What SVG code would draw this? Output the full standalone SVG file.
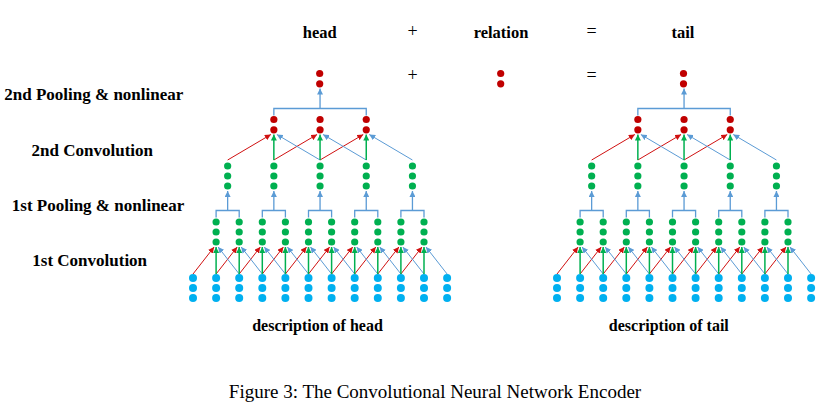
<svg xmlns="http://www.w3.org/2000/svg" xmlns:xlink="http://www.w3.org/1999/xlink" width="829" height="410" viewBox="0 0 829 410">
<style>
text{font-family:"Liberation Serif","Times New Roman",serif;fill:#000}
.lbl{font-weight:bold;font-size:17px;text-anchor:middle}
.top{font-weight:bold;font-size:16.5px;text-anchor:middle}
.op{font-size:18px;text-anchor:middle}
.desc{font-weight:bold;font-size:16px;text-anchor:middle}
.cap{font-size:19px;text-anchor:middle}
.r{fill:#C00000}
.g{fill:#00B050}
.b{fill:#00B0F0}
.lr{stroke:#D01010;stroke-width:1;marker-end:url(#ar)}
.lg{stroke:#00B050;stroke-width:1.5;marker-end:url(#ag)}
.lb{stroke:#5B9BD5;stroke-width:1;marker-end:url(#ab)}
.br{fill:none;stroke:#5B9BD5;stroke-width:1.3;marker-end:url(#ab2)}
</style>
<defs>
<marker id="ar" markerUnits="userSpaceOnUse" markerWidth="6" markerHeight="6" viewBox="0 0 6 6" refX="6" refY="3" orient="auto"><path d="M0,0 L6,3 L0,6z" fill="#D01010"/></marker>
<marker id="ag" markerUnits="userSpaceOnUse" markerWidth="6" markerHeight="6" viewBox="0 0 6 6" refX="6" refY="3" orient="auto"><path d="M0,0 L6,3 L0,6z" fill="#00B050"/></marker>
<marker id="ab" markerUnits="userSpaceOnUse" markerWidth="6" markerHeight="6" viewBox="0 0 6 6" refX="6" refY="3" orient="auto"><path d="M0,0 L6,3 L0,6z" fill="#5B9BD5"/></marker>
<marker id="ab2" markerUnits="userSpaceOnUse" markerWidth="6" markerHeight="6" viewBox="0 0 6 6" refX="6" refY="3" orient="auto"><path d="M0,0 L6,3 L0,6z" fill="#5B9BD5"/></marker>
<g id="bcol"><circle class="b" cx="0" cy="0" r="4"/><circle class="b" cx="0" cy="10" r="4"/><circle class="b" cx="0" cy="20" r="4"/></g>
<g id="gcol"><circle class="g" cx="0" cy="0" r="3.6"/><circle class="g" cx="0" cy="10" r="3.6"/><circle class="g" cx="0" cy="20" r="3.6"/></g>
<g id="rcol"><circle class="r" cx="0" cy="0" r="3.6"/><circle class="r" cx="0" cy="10.3" r="3.6"/></g>
</defs>
<rect width="829" height="410" fill="#fff"/>

<g id="labels">
<text class="top" x="319.7" y="37.7">head</text>
<text class="op" x="412.7" y="36.5">+</text>
<text class="top" x="501" y="37.7">relation</text>
<text class="op" x="591.7" y="36.5">=</text>
<text class="top" x="683" y="37.7">tail</text>
<text class="op" x="412.7" y="81">+</text>
<text class="op" x="591.7" y="81">=</text>
<text class="lbl" x="93.8" y="100">2nd Pooling &amp; nonlinear</text>
<text class="lbl" x="92.3" y="156">2nd Convolution</text>
<text class="lbl" x="98" y="211">1st Pooling &amp; nonlinear</text>
<text class="lbl" x="89.7" y="266">1st Convolution</text>
<text class="desc" x="317.5" y="331">description of head</text>
<text class="desc" x="668.8" y="331">description of tail</text>
<text class="cap" x="435" y="398">Figure 3: The Convolutional Neural Network Encoder</text>
</g>

<g id="connectors">
<!-- head: 1st convolution -->
<line class="lr" x1="193" y1="274" x2="214.1" y2="247"/>
<line class="lr" x1="216.1" y1="274" x2="237.2" y2="247"/>
<line class="lr" x1="239.2" y1="274" x2="260.3" y2="247"/>
<line class="lr" x1="262.3" y1="274" x2="283.4" y2="247"/>
<line class="lr" x1="285.4" y1="274" x2="306.5" y2="247"/>
<line class="lr" x1="308.5" y1="274" x2="329.6" y2="247"/>
<line class="lr" x1="331.6" y1="274" x2="352.7" y2="247"/>
<line class="lr" x1="354.7" y1="274" x2="375.8" y2="247"/>
<line class="lr" x1="377.8" y1="274" x2="398.9" y2="247"/>
<line class="lr" x1="400.9" y1="274" x2="422" y2="247"/>
<line class="lb" x1="239.2" y1="274" x2="218.1" y2="247"/>
<line class="lb" x1="262.3" y1="274" x2="241.2" y2="247"/>
<line class="lb" x1="285.4" y1="274" x2="264.3" y2="247"/>
<line class="lb" x1="308.5" y1="274" x2="287.4" y2="247"/>
<line class="lb" x1="331.6" y1="274" x2="310.5" y2="247"/>
<line class="lb" x1="354.7" y1="274" x2="333.6" y2="247"/>
<line class="lb" x1="377.8" y1="274" x2="356.7" y2="247"/>
<line class="lb" x1="400.9" y1="274" x2="379.8" y2="247"/>
<line class="lb" x1="424" y1="274" x2="402.9" y2="247"/>
<line class="lb" x1="447.1" y1="274" x2="426" y2="247"/>
<line class="lg" x1="216.1" y1="274" x2="216.1" y2="247"/>
<line class="lg" x1="239.2" y1="274" x2="239.2" y2="247"/>
<line class="lg" x1="262.3" y1="274" x2="262.3" y2="247"/>
<line class="lg" x1="285.4" y1="274" x2="285.4" y2="247"/>
<line class="lg" x1="308.5" y1="274" x2="308.5" y2="247"/>
<line class="lg" x1="331.6" y1="274" x2="331.6" y2="247"/>
<line class="lg" x1="354.7" y1="274" x2="354.7" y2="247"/>
<line class="lg" x1="377.8" y1="274" x2="377.8" y2="247"/>
<line class="lg" x1="400.9" y1="274" x2="400.9" y2="247"/>
<line class="lg" x1="424" y1="274" x2="424" y2="247"/>
<!-- head: 1st pooling -->
<path class="br" d="M216.1,217.5 V210.5 H239.2 V217.5 M227.65,210.5 V191"/>
<path class="br" d="M262.3,217.5 V210.5 H285.4 V217.5 M273.85,210.5 V191"/>
<path class="br" d="M308.5,217.5 V210.5 H331.6 V217.5 M320.05,210.5 V191"/>
<path class="br" d="M354.7,217.5 V210.5 H377.8 V217.5 M366.25,210.5 V191"/>
<path class="br" d="M400.9,217.5 V210.5 H424 V217.5 M412.45,210.5 V191"/>
<!-- head: 2nd convolution -->
<line class="lr" x1="227.65" y1="160" x2="270.85" y2="134.5"/>
<line class="lr" x1="273.85" y1="160" x2="317.05" y2="134.5"/>
<line class="lr" x1="320.05" y1="160" x2="363.25" y2="134.5"/>
<line class="lb" x1="320.05" y1="160" x2="276.85" y2="134.5"/>
<line class="lb" x1="366.25" y1="160" x2="323.05" y2="134.5"/>
<line class="lb" x1="412.45" y1="160" x2="369.25" y2="134.5"/>
<line class="lg" x1="273.85" y1="160" x2="273.85" y2="134.5"/>
<line class="lg" x1="320.05" y1="160" x2="320.05" y2="134.5"/>
<line class="lg" x1="366.25" y1="160" x2="366.25" y2="134.5"/>
<!-- head: 2nd pooling -->
<path class="br" d="M273.85,115.5 V108.5 H366.25 V115.5 M320.05,108.5 V88.5"/>

<!-- tail: 1st convolution -->
<line class="lr" x1="557" y1="274" x2="578.1" y2="247"/>
<line class="lr" x1="580.1" y1="274" x2="601.2" y2="247"/>
<line class="lr" x1="603.2" y1="274" x2="624.3" y2="247"/>
<line class="lr" x1="626.3" y1="274" x2="647.4" y2="247"/>
<line class="lr" x1="649.4" y1="274" x2="670.5" y2="247"/>
<line class="lr" x1="672.5" y1="274" x2="693.6" y2="247"/>
<line class="lr" x1="695.6" y1="274" x2="716.7" y2="247"/>
<line class="lr" x1="718.7" y1="274" x2="739.8" y2="247"/>
<line class="lr" x1="741.8" y1="274" x2="762.9" y2="247"/>
<line class="lr" x1="764.9" y1="274" x2="786" y2="247"/>
<line class="lb" x1="603.2" y1="274" x2="582.1" y2="247"/>
<line class="lb" x1="626.3" y1="274" x2="605.2" y2="247"/>
<line class="lb" x1="649.4" y1="274" x2="628.3" y2="247"/>
<line class="lb" x1="672.5" y1="274" x2="651.4" y2="247"/>
<line class="lb" x1="695.6" y1="274" x2="674.5" y2="247"/>
<line class="lb" x1="718.7" y1="274" x2="697.6" y2="247"/>
<line class="lb" x1="741.8" y1="274" x2="720.7" y2="247"/>
<line class="lb" x1="764.9" y1="274" x2="743.8" y2="247"/>
<line class="lb" x1="788" y1="274" x2="766.9" y2="247"/>
<line class="lb" x1="811.1" y1="274" x2="790" y2="247"/>
<line class="lg" x1="580.1" y1="274" x2="580.1" y2="247"/>
<line class="lg" x1="603.2" y1="274" x2="603.2" y2="247"/>
<line class="lg" x1="626.3" y1="274" x2="626.3" y2="247"/>
<line class="lg" x1="649.4" y1="274" x2="649.4" y2="247"/>
<line class="lg" x1="672.5" y1="274" x2="672.5" y2="247"/>
<line class="lg" x1="695.6" y1="274" x2="695.6" y2="247"/>
<line class="lg" x1="718.7" y1="274" x2="718.7" y2="247"/>
<line class="lg" x1="741.8" y1="274" x2="741.8" y2="247"/>
<line class="lg" x1="764.9" y1="274" x2="764.9" y2="247"/>
<line class="lg" x1="788" y1="274" x2="788" y2="247"/>
<!-- tail: 1st pooling -->
<path class="br" d="M580.1,217.5 V210.5 H603.2 V217.5 M591.65,210.5 V191"/>
<path class="br" d="M626.3,217.5 V210.5 H649.4 V217.5 M637.85,210.5 V191"/>
<path class="br" d="M672.5,217.5 V210.5 H695.6 V217.5 M684.05,210.5 V191"/>
<path class="br" d="M718.7,217.5 V210.5 H741.8 V217.5 M730.25,210.5 V191"/>
<path class="br" d="M764.9,217.5 V210.5 H788 V217.5 M776.45,210.5 V191"/>
<!-- tail: 2nd convolution -->
<line class="lr" x1="591.65" y1="160" x2="634.85" y2="134.5"/>
<line class="lr" x1="637.85" y1="160" x2="681.05" y2="134.5"/>
<line class="lr" x1="684.05" y1="160" x2="727.25" y2="134.5"/>
<line class="lb" x1="684.05" y1="160" x2="640.85" y2="134.5"/>
<line class="lb" x1="730.25" y1="160" x2="687.05" y2="134.5"/>
<line class="lb" x1="776.45" y1="160" x2="733.25" y2="134.5"/>
<line class="lg" x1="637.85" y1="160" x2="637.85" y2="134.5"/>
<line class="lg" x1="684.05" y1="160" x2="684.05" y2="134.5"/>
<line class="lg" x1="730.25" y1="160" x2="730.25" y2="134.5"/>
<!-- tail: 2nd pooling -->
<path class="br" d="M637.85,115.5 V108.5 H730.25 V115.5 M684.05,108.5 V88.5"/>
</g>

<!-- head input columns -->
<g id="h-in-0"><use href="#bcol" x="193" y="278"/></g>
<g id="h-in-1"><use href="#bcol" x="216.1" y="278"/></g>
<g id="h-in-2"><use href="#bcol" x="239.2" y="278"/></g>
<g id="h-in-3"><use href="#bcol" x="262.3" y="278"/></g>
<g id="h-in-4"><use href="#bcol" x="285.4" y="278"/></g>
<g id="h-in-5"><use href="#bcol" x="308.5" y="278"/></g>
<g id="h-in-6"><use href="#bcol" x="331.6" y="278"/></g>
<g id="h-in-7"><use href="#bcol" x="354.7" y="278"/></g>
<g id="h-in-8"><use href="#bcol" x="377.8" y="278"/></g>
<g id="h-in-9"><use href="#bcol" x="400.9" y="278"/></g>
<g id="h-in-10"><use href="#bcol" x="424" y="278"/></g>
<g id="h-in-11"><use href="#bcol" x="447.1" y="278"/></g>
<!-- head conv1 -->
<g id="h-c1-1"><use href="#gcol" x="216.1" y="222"/></g>
<g id="h-c1-2"><use href="#gcol" x="239.2" y="222"/></g>
<g id="h-c1-3"><use href="#gcol" x="262.3" y="222"/></g>
<g id="h-c1-4"><use href="#gcol" x="285.4" y="222"/></g>
<g id="h-c1-5"><use href="#gcol" x="308.5" y="222"/></g>
<g id="h-c1-6"><use href="#gcol" x="331.6" y="222"/></g>
<g id="h-c1-7"><use href="#gcol" x="354.7" y="222"/></g>
<g id="h-c1-8"><use href="#gcol" x="377.8" y="222"/></g>
<g id="h-c1-9"><use href="#gcol" x="400.9" y="222"/></g>
<g id="h-c1-10"><use href="#gcol" x="424" y="222"/></g>
<!-- head pool1 -->
<g id="h-p1-0"><use href="#gcol" x="227.65" y="166"/></g>
<g id="h-p1-1"><use href="#gcol" x="273.85" y="166"/></g>
<g id="h-p1-2"><use href="#gcol" x="320.05" y="166"/></g>
<g id="h-p1-3"><use href="#gcol" x="366.25" y="166"/></g>
<g id="h-p1-4"><use href="#gcol" x="412.45" y="166"/></g>
<!-- head conv2 -->
<g id="h-c2-1"><use href="#rcol" x="273.85" y="119.5"/></g>
<g id="h-c2-2"><use href="#rcol" x="320.05" y="119.5"/></g>
<g id="h-c2-3"><use href="#rcol" x="366.25" y="119.5"/></g>
<!-- outputs -->
<g id="h-out"><use href="#rcol" x="319.7" y="73.5"/></g>
<g id="relation"><use href="#rcol" x="500.7" y="73.5"/></g>
<g id="t-out"><use href="#rcol" x="683.5" y="73.5"/></g>

<!-- tail input columns -->
<g id="t-in-0"><use href="#bcol" x="557" y="278"/></g>
<g id="t-in-1"><use href="#bcol" x="580.1" y="278"/></g>
<g id="t-in-2"><use href="#bcol" x="603.2" y="278"/></g>
<g id="t-in-3"><use href="#bcol" x="626.3" y="278"/></g>
<g id="t-in-4"><use href="#bcol" x="649.4" y="278"/></g>
<g id="t-in-5"><use href="#bcol" x="672.5" y="278"/></g>
<g id="t-in-6"><use href="#bcol" x="695.6" y="278"/></g>
<g id="t-in-7"><use href="#bcol" x="718.7" y="278"/></g>
<g id="t-in-8"><use href="#bcol" x="741.8" y="278"/></g>
<g id="t-in-9"><use href="#bcol" x="764.9" y="278"/></g>
<g id="t-in-10"><use href="#bcol" x="788" y="278"/></g>
<g id="t-in-11"><use href="#bcol" x="811.1" y="278"/></g>
<!-- tail conv1 -->
<g id="t-c1-1"><use href="#gcol" x="580.1" y="222"/></g>
<g id="t-c1-2"><use href="#gcol" x="603.2" y="222"/></g>
<g id="t-c1-3"><use href="#gcol" x="626.3" y="222"/></g>
<g id="t-c1-4"><use href="#gcol" x="649.4" y="222"/></g>
<g id="t-c1-5"><use href="#gcol" x="672.5" y="222"/></g>
<g id="t-c1-6"><use href="#gcol" x="695.6" y="222"/></g>
<g id="t-c1-7"><use href="#gcol" x="718.7" y="222"/></g>
<g id="t-c1-8"><use href="#gcol" x="741.8" y="222"/></g>
<g id="t-c1-9"><use href="#gcol" x="764.9" y="222"/></g>
<g id="t-c1-10"><use href="#gcol" x="788" y="222"/></g>
<!-- tail pool1 -->
<g id="t-p1-0"><use href="#gcol" x="591.65" y="166"/></g>
<g id="t-p1-1"><use href="#gcol" x="637.85" y="166"/></g>
<g id="t-p1-2"><use href="#gcol" x="684.05" y="166"/></g>
<g id="t-p1-3"><use href="#gcol" x="730.25" y="166"/></g>
<g id="t-p1-4"><use href="#gcol" x="776.45" y="166"/></g>
<!-- tail conv2 -->
<g id="t-c2-1"><use href="#rcol" x="637.85" y="119.5"/></g>
<g id="t-c2-2"><use href="#rcol" x="684.05" y="119.5"/></g>
<g id="t-c2-3"><use href="#rcol" x="730.25" y="119.5"/></g>
</svg>
